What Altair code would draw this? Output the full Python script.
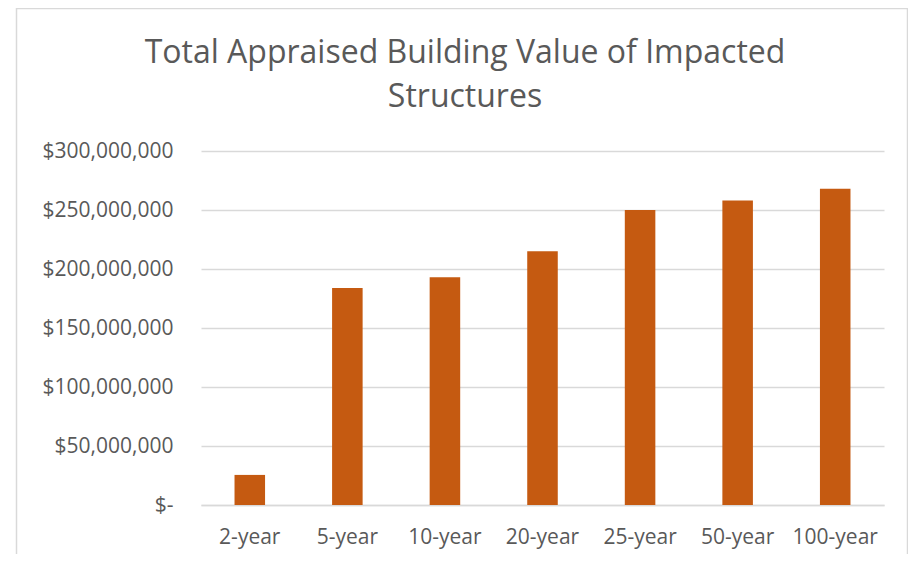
import altair as alt
import pandas as pd

categories = ["2-year", "5-year", "10-year", "20-year", "25-year", "50-year", "100-year"]
values = [25500000, 184000000, 193000000, 215000000, 250000000, 258000000, 268000000]
y_ticks = [0, 50000000, 100000000, 150000000, 200000000, 250000000, 300000000]
title_lines = ["Total Appraised Building Value of Impacted", "Structures"]

df = pd.DataFrame({"period": categories, "value": values})

FONT = "Open Sans"
TEXT = "#595959"
GRID = "#D9D9D9"

bars = alt.Chart(df).mark_bar(color="#C55A11").encode(
    x=alt.X(
        "period:N",
        sort=categories,
        title=None,
        scale=alt.Scale(paddingInner=0.687, paddingOuter=0.3435),
        axis=alt.Axis(
            labelAngle=0,
            labelFont=FONT,
            labelFontSize=21,
            labelColor=TEXT,
            labelBaseline="alphabetic",
            labelPadding=38,
            ticks=False,
            tickSize=0,
            domainColor=GRID,
            domainWidth=1.3,
            grid=False,
        ),
    ),
    y=alt.Y(
        "value:Q",
        title=None,
        scale=alt.Scale(domain=[0, 300000000], nice=False),
        axis=alt.Axis(
            values=y_ticks,
            labelExpr="datum.value == 0 ? '$-' : format(datum.value, '$,.0f')",
            labelFont=FONT,
            labelFontSize=21,
            labelColor=TEXT,
            labelPadding=28,
            ticks=False,
            tickSize=0,
            domain=False,
            gridColor=GRID,
            gridWidth=1.3,
        ),
    ),
)

one = alt.Data(values=[{}])

frame = alt.Chart(one).mark_rect(
    fill=None, stroke=GRID, strokeWidth=1.5
).encode(
    x=alt.value(-184.5), x2=alt.value(706.5), y=alt.value(-142.5), y2=alt.value(440)
)

title = alt.Chart(one).mark_text(
    font=FONT,
    fontSize=32,
    color=TEXT,
    align="center",
    baseline="alphabetic",
    lineHeight=44,
).encode(
    text=alt.value(title_lines),
    x=alt.value(264),
    y=alt.value(-88),
)

chart = alt.layer(frame, title, bars).properties(
    width=683,
    height=354,
    autosize=alt.AutoSizeParams(type="none"),
    padding={"left": 193, "top": 143, "right": 24, "bottom": 49},
).configure_view(stroke=None)

chart.save("out.html", embed_options={"renderer": "svg", "actions": False})
